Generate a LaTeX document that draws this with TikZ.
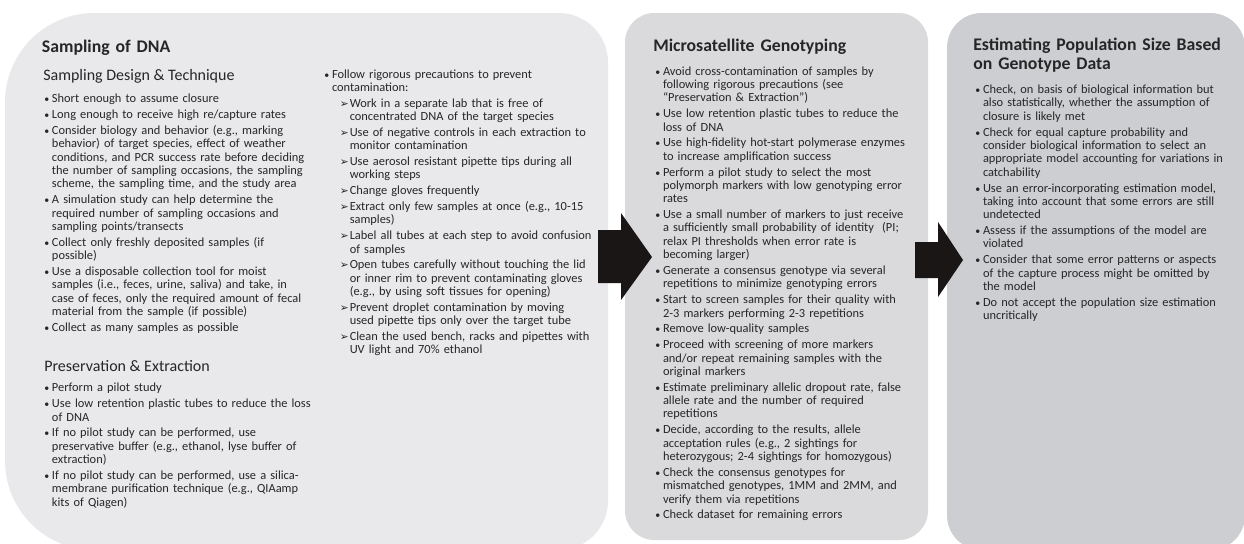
\documentclass[tikz,border=0pt]{standalone}
\usepackage{fontspec}
\usepackage{graphicx}
\setmainfont{Carlito}
\newfontfamily\tipfont{DejaVu Sans}

\definecolor{paneA}{HTML}{E9E9EC}
\definecolor{paneB}{HTML}{DADADD}
\definecolor{paneC}{HTML}{CCCED1}
\definecolor{arrowink}{HTML}{1B1616}
\definecolor{ink}{HTML}{262626}

\newenvironment{dotlist}{\list{\scalebox{0.8}{\textbullet}}{\leftmargin=5.8pt\labelwidth=\leftmargin\labelsep=0pt\itemsep=1.9pt\parsep=0pt\topsep=0pt\partopsep=0pt\def\makelabel##1{##1\hfil}}}{\endlist}
\newenvironment{tiplist}{\list{{\tipfont\fontsize{8}{10}\selectfont ➢}}{\leftmargin=7.5pt\labelwidth=\leftmargin\labelsep=0pt\itemsep=1.9pt\parsep=0pt\topsep=0pt\partopsep=0pt\def\makelabel##1{##1\hfil}}}{\endlist}

\begin{document}
\begin{tikzpicture}
		[x=0.75pt,y=-0.75pt,
		txt/.style={anchor=base west,inner sep=0pt,text width=#1,align=left,text=ink,font=\fontsize{9.3}{10}\selectfont},
		head/.style={anchor=base west,inner sep=0pt,text width=250pt,align=left,text=ink,font=\bfseries\fontsize{13.3}{14.25}\selectfont},
		subhead/.style={anchor=base west,inner sep=0pt,text=ink,font=\fontsize{12}{14}\selectfont},
		blockarrow/.style={fill=arrowink}]
		
		\fill[white] (0,0) rectangle (1244,543);
		\useasboundingbox (0,0) rectangle (1244,543);
		
		\fill[paneA] (5,300) [rounded corners=67pt] -- (5,13) -- (300,13)
		[rounded corners=37pt] -- (608,13) -- (608,550) -- (300,550)
		[rounded corners=67pt] -- (5,550) -- cycle;
		\fill[paneB,rounded corners=22pt] (625,13) rectangle (928,540);
		\fill[paneC,rounded corners=26pt] (947,13) rectangle (1245,550);
		
		\node[head] (sampling) at (41.7,52.5) {Sampling of DNA};
		\node[subhead] (design) at (43,80) {Sampling Design \& Technique};
		\node[txt=200pt] (designlist) at (44,89.5) {\begin{dotlist}
			\item Short enough to assume closure
			\item Long enough to receive high re/capture rates
			\item Consider biology and behavior (e.g., marking\newline behavior) of target species, effect of weather\newline conditions, and PCR success rate before deciding\newline the number of sampling occasions, the sampling\newline scheme, the sampling time, and the study area
			\item A simulation study can help determine the\newline required number of sampling occasions and\newline sampling points/transects
			\item Collect only freshly deposited samples (if\newline possible)
			\item Use a disposable collection tool for moist\newline samples (i.e., feces, urine, saliva) and take, in\newline case of feces, only the required amount of fecal\newline material from the sample (if possible)
			\item Collect as many samples as possible
		\end{dotlist}};
		
		\node[subhead] (preserve) at (44,371) {Preservation \& Extraction};
		\node[txt=200pt] (preservelist) at (44,378.5) {\begin{dotlist}
			\item Perform a pilot study
			\item Use low retention plastic tubes to reduce the loss\newline of DNA
			\item If no pilot study can be performed, use\newline preservative buffer (e.g., ethanol, lyse buffer of\newline extraction)
			\item If no pilot study can be performed, use a silica-\newline membrane purification technique (e.g., QIAamp\newline kits of Qiagen)
		\end{dotlist}};
		
		\node[txt=200pt] (precaution) at (324,65.2) {\begin{dotlist}
			\item Follow rigorous precautions to prevent\newline contamination:
		\end{dotlist}};
		\node[txt=200pt] (precautionlist) at (339.5,93.7) {\begin{tiplist}
			\item Work in a separate lab that is free of\newline concentrated DNA of the target species
			\item Use of negative controls in each extraction to\newline monitor contamination
			\item Use aerosol resistant pipette tips during all\newline working steps
			\item Change gloves frequently
			\item Extract only few samples at once (e.g., 10-15\newline samples)
			\item Label all tubes at each step to avoid confusion\newline of samples
			\item Open tubes carefully without touching the lid\newline or inner rim to prevent contaminating gloves\newline (e.g., by using soft tissues for opening)
			\item Prevent droplet contamination by moving\newline used pipette tips only over the target tube
			\item Clean the used bench, racks and pipettes with\newline UV light and 70\% ethanol
		\end{tiplist}};
		
		\node[head] (genotyping) at (653,51) {Microsatellite Genotyping};
		\node[txt=200pt] (genotypinglist) at (655,61.8) {\begin{dotlist}
			\item Avoid cross-contamination of samples by\newline following rigorous precautions (see\newline “Preservation \& Extraction”)
			\item Use low retention plastic tubes to reduce the\newline loss of DNA
			\item Use high-fidelity hot-start polymerase enzymes\newline to increase amplification success
			\item Perform a pilot study to select the most\newline polymorph markers with low genotyping error\newline rates
			\item Use a small number of markers to just receive\newline a sufficiently small probability of identity~ (PI;\newline relax PI thresholds when error rate is\newline becoming larger)
			\item Generate a consensus genotype via several\newline repetitions to minimize genotyping errors
			\item Start to screen samples for their quality with\newline 2-3 markers performing 2-3 repetitions
			\item Remove low-quality samples
			\item Proceed with screening of more markers\newline and/or repeat remaining samples with the\newline original markers
			\item Estimate preliminary allelic dropout rate, false\newline allele rate and the number of required\newline repetitions
			\item Decide, according to the results, allele\newline acceptation rules (e.g., 2 sightings for\newline heterozygous; 2-4 sightings for homozygous)
			\item Check the consensus genotypes for\newline mismatched genotypes, 1MM and 2MM, and\newline verify them via repetitions
			\item Check dataset for remaining errors
		\end{dotlist}};
		
		\node[head] (estimating) at (973,50) {Estimating Population Size Based\\on Genotype Data};
		\node[txt=200pt] (estimatinglist) at (975,80.3) {\begin{dotlist}
			\item Check, on basis of biological information but\newline also statistically, whether the assumption of\newline closure is likely met
			\item Check for equal capture probability and\newline consider biological information to select an\newline appropriate model accounting for variations in\newline catchability
			\item Use an error-incorporating estimation model,\newline taking into account that some errors are still\newline undetected
			\item Assess if the assumptions of the model are\newline violated
			\item Consider that some error patterns or aspects\newline of the capture process might be omitted by\newline the model
			\item Do not accept the population size estimation\newline uncritically
		\end{dotlist}};
		
		\fill[blockarrow] (598,230) -- (621,230) -- (621,213) -- (652,257)
		-- (621,300) -- (621,283) -- (598,283) -- cycle;
		\fill[blockarrow] (915,242) -- (938,242) -- (938,222) -- (963,260)
		-- (938,297) -- (938,278) -- (915,278) -- cycle;
	
	\end{tikzpicture}
\end{document}
